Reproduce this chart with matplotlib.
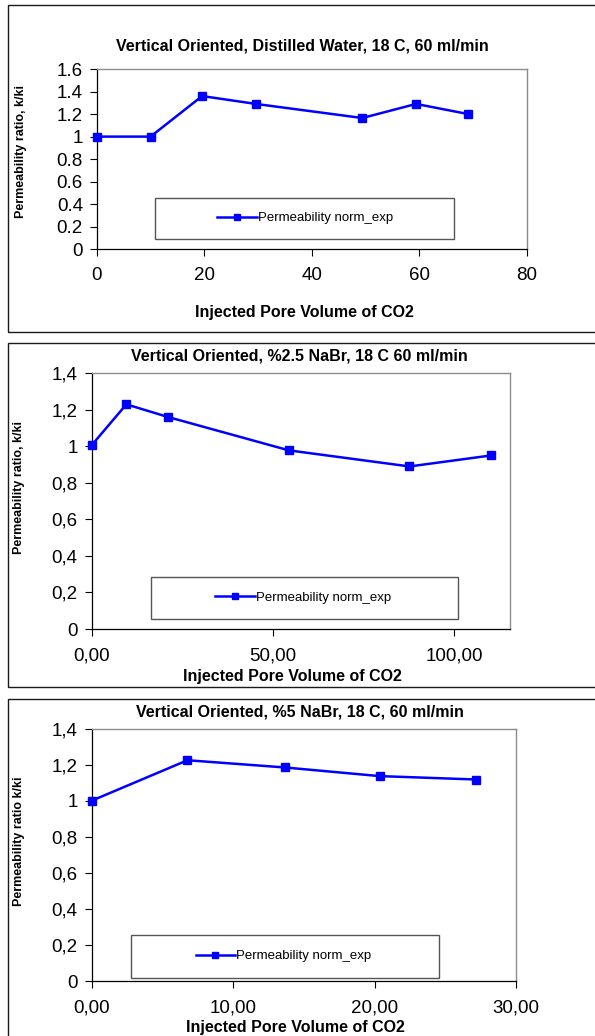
import matplotlib
matplotlib.use("Agg")
import matplotlib.pyplot as plt
from matplotlib.patches import Rectangle
from matplotlib.ticker import FuncFormatter, MultipleLocator

plt.rcParams["font.family"] = ["Liberation Sans", "DejaVu Sans"]

# --- data ---
pv_water = [0, 10, 19.6, 29.6, 49.4, 59.4, 69.1]
k_water = [1.0, 1.0, 1.36, 1.29, 1.165, 1.29, 1.2]

pv_nabr25 = [0, 9.6, 21.2, 54.4, 87.6, 110.0]
k_nabr25 = [1.005, 1.23, 1.16, 0.978, 0.89, 0.95]

pv_nabr5 = [0, 6.78, 13.65, 20.35, 27.2]
k_nabr5 = [1.0, 1.225, 1.185, 1.137, 1.118]

titles = [
    "Vertical Oriented, Distilled Water, 18 C, 60 ml/min",
    "Vertical Oriented, %2.5 NaBr, 18 C 60 ml/min",
    "Vertical Oriented, %5 NaBr, 18 C, 60 ml/min",
]
ylabels = ["Permeability ratio, k/ki", "Permeability ratio, k/ki", "Permeability ratio k/ki"]
xlabel = "Injected Pore Volume of CO2"
legend_label = "Permeability norm_exp"

W, H = 595, 1036
fig = plt.figure(figsize=(W / 100, H / 100), dpi=100)


def fx(x):
    return x / W


def fy(y):
    return 1 - y / H


def add_axes_px(left, right, top, bottom):
    return fig.add_axes([fx(left), fy(bottom), fx(right) - fx(left), fy(top) - fy(bottom)])


def comma(fmt):
    return FuncFormatter(lambda v, p: (fmt % v).replace(".", ","))


# panel frames (figure level)
for top, bottom in [(5, 331.7), (343.3, 687.3), (699.3, 1045)]:
    fig.add_artist(Rectangle((fx(7.5), fy(bottom)), 1.0, fy(top) - fy(bottom),
                             transform=fig.transFigure, fill=False,
                             edgecolor="#1a1a1a", linewidth=1.0, clip_on=False))

# layout of each panel in pixels
panels = [
    dict(x=pv_water, y=k_water, ax=(96.8, 526.8, 69, 249.3), xlim=80, xstep=20, ylim=1.6,
         title=(302.5, 46), xlab=(304.6, 312), ylab=(21, 151.5),
         box=(154.5, 454.3, 198, 238.7), leg_x=217, xfmt=FuncFormatter(lambda v, p: "%g" % v),
         yfmt=FuncFormatter(lambda v, p: "%g" % v)),
    dict(x=pv_nabr25, y=k_nabr25, ax=(91.5, 510.4, 373.3, 629), xlim=115.4, xstep=50, ylim=1.4,
         title=(299.5, 355.7), xlab=(292.5, 676.7), ylab=(19, 487.5),
         box=(151.4, 458, 576.7, 619.3), leg_x=215, xfmt=comma("%.2f"), yfmt=comma("%g")),
    dict(x=pv_nabr5, y=k_nabr5, ax=(91.5, 516.1, 728.7, 981), xlim=30, xstep=10, ylim=1.4,
         title=(300, 711.7), xlab=(295, 1027.7), ylab=(19, 841.7),
         box=(131.3, 439, 935, 977.7), leg_x=195.5, xfmt=comma("%.2f"), yfmt=comma("%g")),
]

for i, p in enumerate(panels):
    ax = add_axes_px(*p["ax"])
    line, = ax.plot(p["x"], p["y"], color="#0000ff", linewidth=1.8, marker="s",
                    markersize=5.5, clip_on=False, zorder=3)
    ax.set_xlim(0, p["xlim"])
    ax.set_ylim(0, p["ylim"])
    ax.xaxis.set_major_locator(MultipleLocator(p["xstep"]))
    ax.yaxis.set_major_locator(MultipleLocator(0.2))
    ax.xaxis.set_major_formatter(p["xfmt"])
    ax.yaxis.set_major_formatter(p["yfmt"])
    ax.tick_params(direction="out", length=5, width=0.8, labelsize=13.5, pad=5)
    ax.tick_params(axis="x", pad=8)
    for s in ["left", "bottom"]:
        ax.spines[s].set_color("black")
        ax.spines[s].set_linewidth(0.9)
    for s in ["top", "right"]:
        ax.spines[s].set_color("#8c8c8c")
        ax.spines[s].set_linewidth(1.0)

    tx, ty = p["title"]
    fig.text(fx(tx), fy(ty), titles[i], ha="center", va="center",
             fontsize=11.5, fontweight="bold")
    lx, ly = p["xlab"]
    fig.text(fx(lx), fy(ly), xlabel, ha="center", va="center",
             fontsize=11.5, fontweight="bold")
    yx, yy = p["ylab"]
    fig.text(fx(yx), fy(yy), ylabels[i], ha="center", va="center",
             rotation=90, fontsize=9, fontweight="bold")

    # legend box and entry
    bl, br, bt, bb = p["box"]
    fig.add_artist(Rectangle((fx(bl), fy(bb)), fx(br) - fx(bl), fy(bt) - fy(bb),
                             transform=fig.transFigure, facecolor="white",
                             edgecolor="#555555", linewidth=1.0))
    fig.legend([line], [legend_label], loc="center left",
               bbox_to_anchor=(fx(p["leg_x"]), fy((bt + bb) / 2)),
               bbox_transform=fig.transFigure, frameon=False, fontsize=9.5,
               handlelength=3.0, handletextpad=0.1, borderpad=0, borderaxespad=0,
               markerscale=0.9)

fig.savefig("out.png", dpi=100)
